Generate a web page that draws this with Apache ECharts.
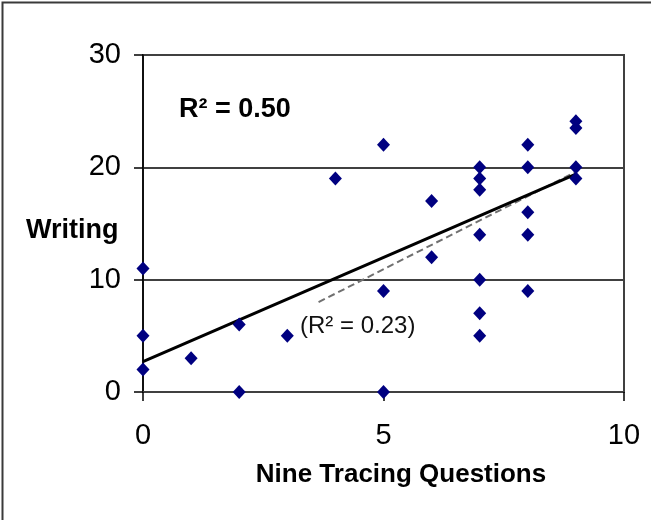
<!DOCTYPE html>
<html>
<head>
<meta charset="utf-8">
<script src="https://cdn.jsdelivr.net/npm/echarts@6/dist/echarts.min.js"></script>
<style>
html,body{margin:0;padding:0;background:#fff;}
#chart{width:651px;height:520px;}
</style>
</head>
<body>
<div id="chart"></div>
<script>
// Data
const xValues = [0,0,0,1,2,2,3,4,5,5,5,6,6,7,7,7,7,7,7,7,8,8,8,8,8,9,9,9,9];
const yValues = [11,5,2,3,6,0,5,19,22,9,0,17,12,20,19,18,14,10,7,5,22,20,16,14,9,24.1,23.5,20,19];
const trendSolid = [[0,2.7],[9,19.4]];
const trendDashed = [[3.65,8.0],[9,19.6]];
const xTicks = [0,5,10];
const yTicks = [0,10,20,30];
const xAxisTitle = 'Nine Tracing Questions';
const yAxisTitle = 'Writing';
const r2Main = 'R² = 0.50';
const r2Alt = '(R² = 0.23)';

const points = xValues.map((x,i)=>[x,yValues[i]]);
const FONT = "'Liberation Sans', Arial, sans-serif";

const chart = echarts.init(document.getElementById('chart'), null, {renderer:'canvas'});
chart.setOption({
  animation:false,
  backgroundColor:'#fff',
  grid:{left:143, top:55, width:481, height:337, show:true, borderColor:'#404040', borderWidth:2, backgroundColor:'transparent'},
  xAxis:{
    type:'value', min:xTicks[0], max:xTicks[xTicks.length-1], interval:5,
    axisLine:{show:true, onZero:false, lineStyle:{color:'#404040', width:2}},
    axisTick:{show:true, length:9, lineStyle:{color:'#000', width:1.5}},
    axisLabel:{show:true, margin:29, fontSize:29, color:'#000', fontFamily:FONT},
    splitLine:{show:false}
  },
  yAxis:{
    type:'value', min:yTicks[0], max:yTicks[yTicks.length-1], interval:10,
    axisLine:{show:true, onZero:false, lineStyle:{color:'#000', width:1.5}},
    axisTick:{show:true, length:9, lineStyle:{color:'#000', width:1.5}},
    axisLabel:{show:true, margin:22, fontSize:29, color:'#000', fontFamily:FONT},
    splitLine:{show:true, lineStyle:{color:'#404040', width:2}}
  },
  series:[
    {type:'line', data:trendDashed, symbol:'none', z:3, silent:true,
     lineStyle:{color:'#707070', width:2, type:[7,4]}},
    {type:'line', data:trendSolid, symbol:'none', z:4, silent:true,
     lineStyle:{color:'#000', width:3}},
    {type:'scatter', data:points, symbol:'diamond', symbolSize:[13,14], z:5,
     itemStyle:{color:'#000080', opacity:1}}
  ],
  graphic:[
    {type:'rect', left:0, top:0, shape:{x:12, y:11, width:1000, height:1000}, z:100, silent:true,
     style:{fill:'none', stroke:'#3a3a3a', lineWidth:2}},
    {type:'text', x:26, y:231, z:100, style:{text:yAxisTitle, font:"bold 27px "+FONT, fill:'#000', verticalAlign:'middle', align:'left'}},
    {type:'text', x:401, y:475, z:100, style:{text:xAxisTitle, font:"bold 26px "+FONT, fill:'#000', verticalAlign:'middle', align:'center'}},
    {type:'text', x:179, y:110, z:100, style:{text:r2Main, font:"bold 27px "+FONT, fill:'#000', verticalAlign:'middle', align:'left'}},
    {type:'text', x:300, y:326, z:100, style:{text:r2Alt, font:"24px "+FONT, fill:'#111', verticalAlign:'middle', align:'left'}}
  ]
});
</script>
</body>
</html>
